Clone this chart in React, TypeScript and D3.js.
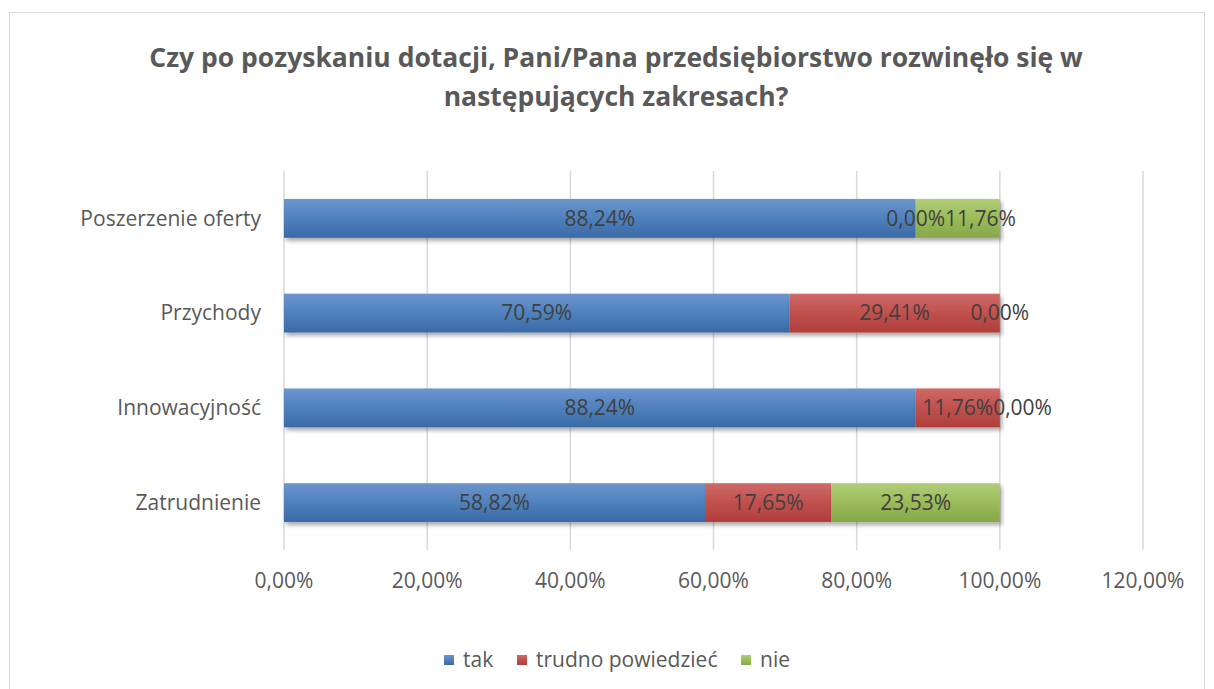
import { useEffect, useRef } from "react";
import * as d3 from "d3";

const categories = ["Poszerzenie oferty", "Przychody", "Innowacyjność", "Zatrudnienie"];
const seriesNames = ["tak", "trudno powiedzieć", "nie"];
const takValues = [88.24, 70.59, 88.24, 58.82];
const trudnoValues = [0, 29.41, 11.76, 17.65];
const nieValues = [11.76, 0, 0, 23.53];
const xTicks = [0, 20, 40, 60, 80, 100, 120];
const colors = ["#4f81bd", "#c0504d", "#9bbb59"];
const lightColors = ["#6c95cc", "#cf6a67", "#b0cd77"];
const darkColors = ["#3a6aa6", "#b03e3b", "#86a84a"];

const W = 1214;
const H = 689;
const margin = { top: 171, right: 71, bottom: 139, left: 284 };
const FONT = "'Open Sans', sans-serif";

const fmt = (v: number) => v.toFixed(2).replace(".", ",") + "%";

export default function App() {
  const svgRef = useRef<SVGSVGElement>(null);

  useEffect(() => {
    const svg = d3.select(svgRef.current);
    svg.selectAll("*").remove();

    const boundsWidth = W - margin.left - margin.right;
    const boundsHeight = H - margin.top - margin.bottom;

    const defs = svg.append("defs");
    colors.forEach((c, i) => {
      const grad = defs
        .append("linearGradient")
        .attr("id", `grad${i}`)
        .attr("x1", 0)
        .attr("y1", 0)
        .attr("x2", 0)
        .attr("y2", 1);
      grad.append("stop").attr("offset", "0%").attr("stop-color", lightColors[i]);
      grad.append("stop").attr("offset", "50%").attr("stop-color", c);
      grad.append("stop").attr("offset", "100%").attr("stop-color", darkColors[i]);
    });
    const filter = defs
      .append("filter")
      .attr("id", "shadow")
      .attr("x", "-5%")
      .attr("y", "-20%")
      .attr("width", "110%")
      .attr("height", "160%");
    filter
      .append("feDropShadow")
      .attr("dx", 2)
      .attr("dy", 3)
      .attr("stdDeviation", 2)
      .attr("flood-color", "#000")
      .attr("flood-opacity", 0.35);

    // tło i ramka
    svg.append("rect").attr("width", W).attr("height", H).attr("fill", "#fff");
    svg
      .append("rect")
      .attr("x", 9.5)
      .attr("y", 12.5)
      .attr("width", W - 19)
      .attr("height", H)
      .attr("fill", "#fff")
      .attr("stroke", "#d9d9d9")
      .attr("stroke-width", 1);

    // tytuł
    const title = svg
      .append("text")
      .attr("text-anchor", "middle")
      .attr("font-family", FONT)
      .attr("font-weight", "bold")
      .attr("font-size", 26.5)
      .attr("fill", "#595959");
    title
      .append("tspan")
      .attr("x", 616)
      .attr("y", 67)
      .text("Czy po pozyskaniu dotacji, Pani/Pana przedsiębiorstwo rozwinęło się w");
    title.append("tspan").attr("x", 616).attr("y", 106).text("następujących zakresach?");

    const xScale = d3.scaleLinear().domain([0, 120]).range([0, boundsWidth]);
    const yScale = d3
      .scaleBand()
      .domain(categories)
      .range([0, boundsHeight])
      .paddingInner(0.59)
      .paddingOuter(0.295);

    const g = svg
      .append("g")
      .attr("transform", `translate(${margin.left},${margin.top})`);

    // siatka
    g.append("g")
      .selectAll("line")
      .data(xTicks)
      .enter()
      .append("line")
      .attr("x1", (d) => xScale(d))
      .attr("x2", (d) => xScale(d))
      .attr("y1", 0)
      .attr("y2", boundsHeight)
      .attr("stroke", "#d9d9d9")
      .attr("stroke-width", 1.5);

    // etykiety osi X
    g.append("g")
      .selectAll("text")
      .data(xTicks)
      .enter()
      .append("text")
      .attr("x", (d) => xScale(d))
      .attr("y", boundsHeight + 38)
      .attr("text-anchor", "middle")
      .attr("font-family", FONT)
      .attr("font-size", 21)
      .attr("fill", "#595959")
      .text((d) => fmt(d));

    // etykiety kategorii
    g.append("g")
      .selectAll("text")
      .data(categories)
      .enter()
      .append("text")
      .attr("x", -23)
      .attr("y", (d) => yScale(d)! + yScale.bandwidth() / 2)
      .attr("dy", "0.35em")
      .attr("text-anchor", "end")
      .attr("font-family", FONT)
      .attr("font-size", 21)
      .attr("fill", "#595959")
      .text((d) => d);

    const rows = categories.map((c, i) => ({
      category: c,
      tak: takValues[i],
      trudno: trudnoValues[i],
      nie: nieValues[i],
    }));
    const stack = d3.stack<any>().keys(["tak", "trudno", "nie"]);
    const stacked = stack(rows);

    stacked.forEach((layer, li) => {
      g.append("g")
        .selectAll("rect")
        .data(layer)
        .enter()
        .append("rect")
        .attr("x", (d) => xScale(d[0]))
        .attr("y", (d) => yScale(d.data.category)!)
        .attr("width", (d) => xScale(d[1]) - xScale(d[0]))
        .attr("height", yScale.bandwidth())
        .attr("fill", `url(#grad${li})`)
        .attr("filter", "url(#shadow)");
    });

    // etykiety danych - przesuwane w prawo, gdy nachodzą na poprzednią (jak w Excelu)
    const labelsG = g.append("g");
    categories.forEach((cat, ci) => {
      let prevRight = -Infinity;
      stacked.forEach((layer) => {
        const d = layer[ci];
        const t = labelsG
          .append("text")
          .attr("y", yScale(cat)! + yScale.bandwidth() / 2)
          .attr("dy", "0.35em")
          .attr("text-anchor", "start")
          .attr("font-family", FONT)
          .attr("font-size", 21)
          .attr("fill", "#404040")
          .text(fmt(d[1] - d[0]));
        const w = (t.node() as SVGTextElement).getComputedTextLength();
        let left = xScale((d[0] + d[1]) / 2) - w / 2;
        if (left < prevRight) left = prevRight;
        t.attr("x", left);
        prevRight = left + w;
      });
    });

    // legenda
    const legendX = [444, 517, 741];
    const legend = svg.append("g");
    seriesNames.forEach((name, i) => {
      legend
        .append("rect")
        .attr("x", legendX[i])
        .attr("y", 655)
        .attr("width", 10)
        .attr("height", 10)
        .attr("fill", `url(#grad${i})`);
      legend
        .append("text")
        .attr("x", legendX[i] + 19)
        .attr("y", 660)
        .attr("dy", "0.35em")
        .attr("font-family", FONT)
        .attr("font-size", 21)
        .attr("fill", "#595959")
        .text(name);
    });
  }, []);

  return (
    <div style={{ position: "fixed", left: 0, top: 0 }}>
      <svg ref={svgRef} width={W} height={H}></svg>
    </div>
  );
}
